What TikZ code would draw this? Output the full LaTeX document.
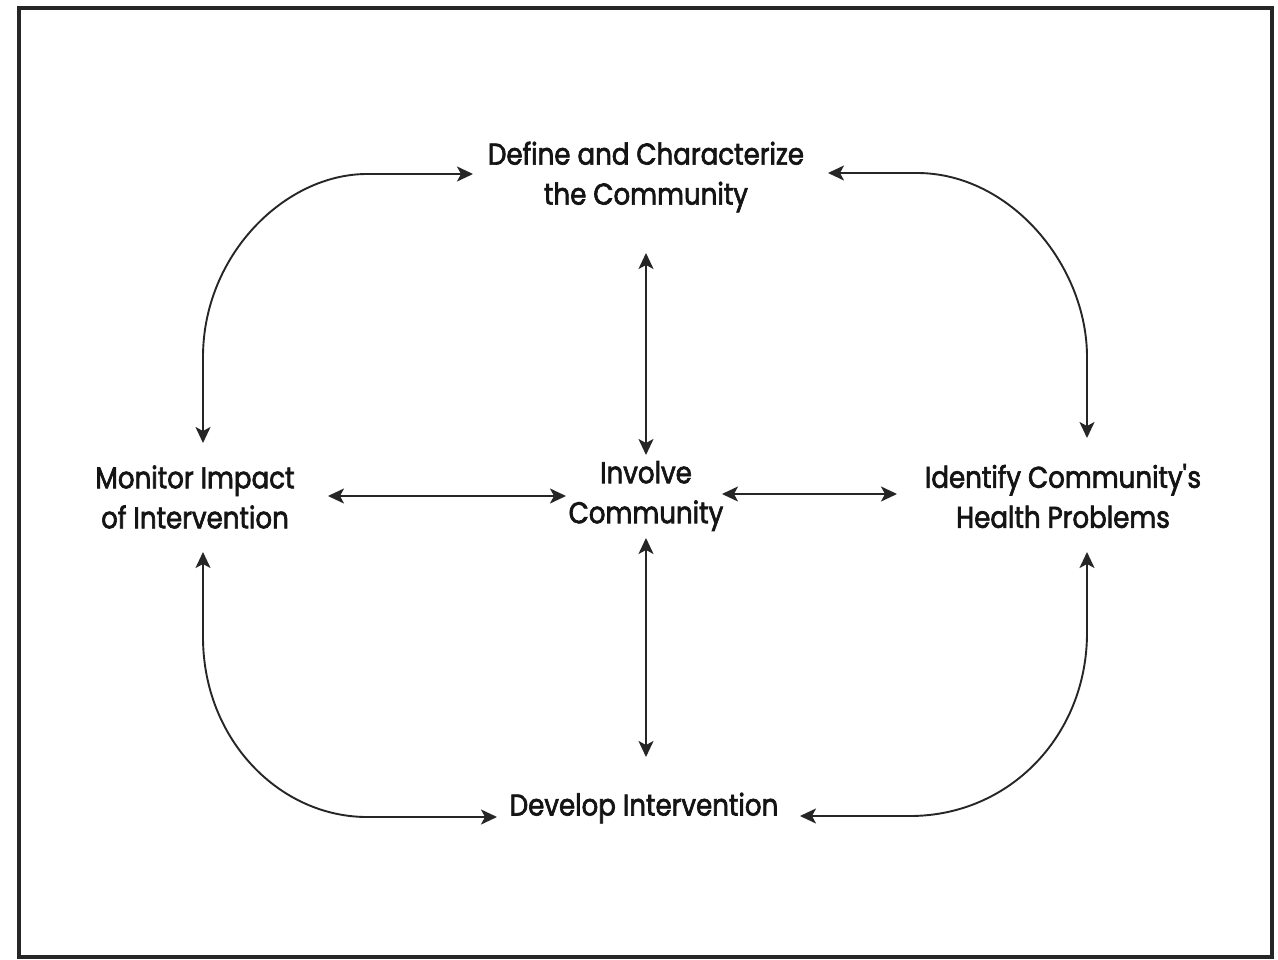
\documentclass[tikz,border=0pt]{standalone}
\usepackage{fontspec}
\setmainfont{Poppins}[FakeStretch=0.87,FakeBold=2.2]
\usetikzlibrary{arrows.meta,calc}

\tikzset{
  tip/.tip={Stealth[length=16pt,width=15pt,inset=4pt]},
  lbl/.style={align=center, inner sep=0pt, text=black!92,
    font=\fontsize{30}{40}\selectfont},
  arr/.style={tip-tip, line width=1.9pt, draw=black!85},
  frame/.style={line width=3.5pt, draw=black!85}
}

\begin{document}
\begin{tikzpicture}[x=1pt,y=-1pt]
\useasboundingbox (0,0) rectangle (1278,960);
\fill[white] (0,0) rectangle (1278,960);
\draw[frame] (19,8) rectangle (1272,957);

% the five stages
\node[lbl] (def) at (646,177) {Define and Characterize\\the Community};
\node[lbl] (mon) at (195,497) {Monitor Impact\\of Intervention};
\node[lbl] (inv) at (646,496) {Involve\\Community};
\node[lbl] (ide) at (1063,496) {Identify Community\textquotesingle s\\Health Problems};
\node[lbl] (dev) at (644,808) {Develop Intervention};

% outer loop
\draw[arr] ($(mon.center)+(8,-54)$) -- ++(0,-86)
  .. controls +(0,-102) and +(-82,0) .. ($(def.center)+(-279,-3)$)
  -- ($(def.center)+(-173,-3)$);
\draw[arr] ($(def.center)+(182,-4)$) -- ++(89,0)
  .. controls +(93,0) and +(0,-92) .. ($(ide.center)+(24,-139)$)
  -- ($(ide.center)+(24,-58)$);
\draw[arr] ($(mon.center)+(8,55)$) -- ++(0,85)
  .. controls +(0,103) and +(-87,0) .. ($(dev.center)+(-277,9)$)
  -- ($(dev.center)+(-147,9)$);
\draw[arr] ($(ide.center)+(24,56)$) -- ++(0,81)
  .. controls +(0,102) and +(100,0) .. ($(dev.center)+(266,8)$)
  -- ($(dev.center)+(156,8)$);

% spokes to the centre
\draw[arr] ($(def.center)+(0,76)$) -- ($(inv.center)+(0,-41)$);
\draw[arr] ($(inv.center)+(0,42)$) -- ($(dev.center)+(2,-51)$);
\draw[arr] ($(mon.center)+(133,-1)$) -- ($(inv.center)+(-80,0)$);
\draw[arr] ($(inv.center)+(76,-2)$) -- ($(ide.center)+(-166,-2)$);
\end{tikzpicture}
\end{document}
